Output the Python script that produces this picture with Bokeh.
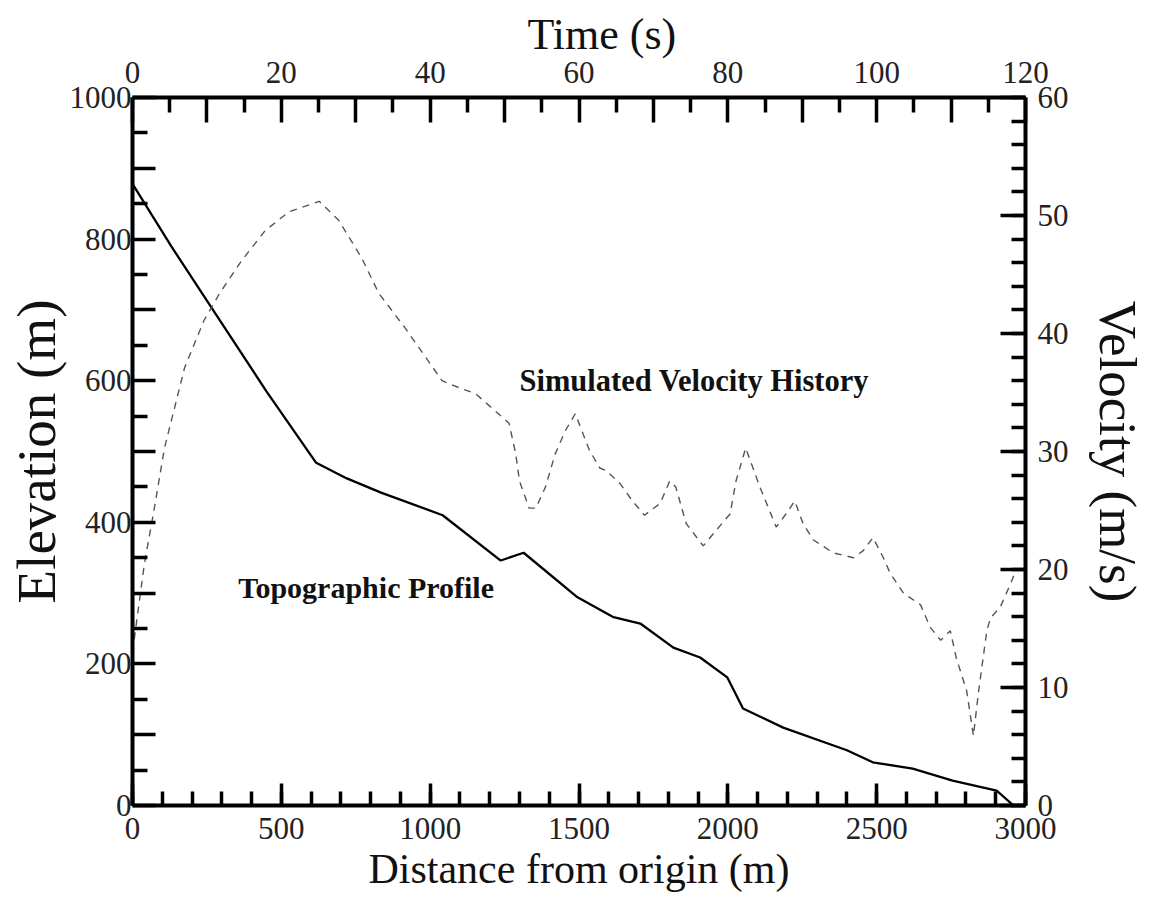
from bokeh.plotting import figure
from bokeh.models import Range1d, LinearAxis, FixedTicker, CustomJSTickFormatter, Label, Grid, Title
from bokeh.embed import file_html
from bokeh.resources import INLINE

# ---- data: topographic profile (distance m, elevation m) ----
distance_m = [0, 130, 272, 450, 617, 720, 835, 1042, 1237, 1314, 1495, 1616, 1706,
              1817, 1907, 1998, 2051, 2186, 2400, 2487, 2621, 2755, 2903, 2960]
elevation_m = [878, 790, 699, 585, 484, 462, 442, 410, 346, 357, 294, 266, 257,
               223, 209, 181, 137, 110, 78, 61, 52, 35, 21, 0]

# ---- data: simulated velocity history (time s, velocity m/s) ----
time_s = [0, 1.6, 2.8, 4.3, 7.0, 9.6, 11.7, 14.7, 17.8, 21.0, 25.1, 27.7, 30.8, 33.1,
          36.6, 41.6, 43.9, 46.1, 50.6, 51.5, 52.0, 53.3, 54.2, 55.5, 56.8, 58.2, 59.5,
          61.4, 62.8, 63.6, 65.5, 67.2, 68.8, 70.9, 72.2, 73.0, 74.4, 76.7, 78.4, 80.3,
          81.1, 82.4, 84.3, 86.5, 87.8, 89.0, 90.1, 91.5, 94.2, 96.9, 98.2, 99.5, 100.9,
          101.8, 103.6, 105.9, 107.2, 108.6, 109.9, 110.7, 112.1, 113.0, 113.7, 114.8,
          115.3, 116.6, 118.0, 118.7]
velocity_ms = [13.0, 20.5, 24.7, 30.3, 37.1, 41.1, 43.4, 46.2, 48.7, 50.3, 51.2, 49.6, 46.4,
               43.4, 40.5, 36.0, 35.4, 34.9, 32.4, 29.8, 27.5, 25.2, 25.2, 27.0, 29.8, 31.8,
               33.2, 30.1, 28.6, 28.4, 27.3, 25.8, 24.6, 25.6, 27.5, 27.0, 23.9, 22.0, 23.3,
               24.7, 27.5, 30.3, 27.0, 23.6, 24.7, 25.8, 23.9, 22.5, 21.4, 21.0, 21.6, 22.7,
               21.0, 19.7, 18.0, 17.0, 15.1, 14.0, 14.8, 12.5, 9.7, 5.9, 9.7, 14.8, 15.9,
               16.8, 18.8, 19.9]

# ---- ticks ----
elev_major = list(range(0, 1001, 100))
elev_minor = list(range(50, 1000, 100))
dist_major = list(range(0, 3001, 500))
dist_minor = list(range(0, 3001, 100))
time_major = list(range(0, 121, 10))
time_minor = list(range(5, 120, 10))
vel_major = list(range(0, 61, 10))
vel_minor = list(range(0, 61, 2))

FONT = "Liberation Serif"

p = figure(width=1149, height=904, output_backend="svg", toolbar_location=None,
           x_range=Range1d(0, 3000), y_range=Range1d(0, 1000),
           x_axis_location=None, y_axis_location=None,
           min_border_left=132, min_border_right=124,
           min_border_top=97, min_border_bottom=99)
p.extra_x_ranges = {"time": Range1d(0, 120)}
p.extra_y_ranges = {"vel": Range1d(0, 60)}
p.outline_line_color = None
p.background_fill_color = "white"
p.border_fill_color = "white"
for g in p.select(type=Grid):
    g.visible = False


def style(ax, maj_len, min_len, lab_standoff, title_standoff, title_size):
    ax.axis_line_width = 4
    ax.axis_line_color = "black"
    ax.major_tick_in = maj_len
    ax.major_tick_out = 0
    ax.minor_tick_in = min_len
    ax.minor_tick_out = 0
    ax.major_tick_line_width = 3.5
    ax.minor_tick_line_width = 3.5
    ax.major_tick_line_color = "black"
    ax.minor_tick_line_color = "black"
    ax.major_label_text_font = FONT
    ax.major_label_text_font_size = "31px"
    ax.major_label_text_color = "#222222"
    ax.major_label_standoff = lab_standoff
    ax.axis_label_text_font = FONT
    ax.axis_label_text_font_style = "normal"
    ax.axis_label_text_font_size = title_size
    ax.axis_label_text_color = "#111111"
    ax.axis_label_standoff = title_standoff


left = LinearAxis(axis_label="Elevation (m)",
                  ticker=FixedTicker(ticks=elev_major, minor_ticks=elev_minor),
                  formatter=CustomJSTickFormatter(
                      code="var t=Math.round(tick); return (t % 200 === 0) ? t.toString() : '';"))
style(left, 23, 15, 1, 0, "55px")
p.add_layout(left, "left")

bottom = LinearAxis(axis_label="Distance from origin (m)",
                    ticker=FixedTicker(ticks=dist_major, minor_ticks=dist_minor))
style(bottom, 22, 14, 12, 4, "42px")
p.add_layout(bottom, "below")

top = LinearAxis(x_range_name="time",
                 ticker=FixedTicker(ticks=time_major, minor_ticks=time_minor),
                 formatter=CustomJSTickFormatter(
                     code="var t=Math.round(tick); return (t % 20 === 0) ? t.toString() : '';"))
style(top, 25, 15, 15, 0, "44px")
p.add_layout(top, "above")
p.add_layout(Title(text="Time (s)", align="left", offset=395, standoff=0,
                   text_font=FONT, text_font_style="normal", text_font_size="44px",
                   text_color="#111111"), "above")

right = LinearAxis(axis_label="Velocity (m/s)", y_range_name="vel",
                   ticker=FixedTicker(ticks=vel_major, minor_ticks=vel_minor))
style(right, 25, 14, 12, 17, "53px")
p.add_layout(right, "right")

# curves
p.line(distance_m, elevation_m, line_color="black", line_width=2.3)
p.line(time_s, velocity_ms, x_range_name="time", y_range_name="vel",
       line_color="#555555", line_width=1.4, line_dash="7 6")

# annotations
p.add_layout(Label(x=1300, y=599, text="Simulated Velocity History",
                   text_font=FONT, text_font_style="bold", text_font_size="30.5px",
                   text_color="#111111", text_align="left", text_baseline="alphabetic"))
p.add_layout(Label(x=355, y=308, text="Topographic Profile",
                   text_font=FONT, text_font_style="bold", text_font_size="30px",
                   text_color="#111111", text_align="left", text_baseline="alphabetic"))

open("out.html", "w").write(file_html(p, INLINE))
